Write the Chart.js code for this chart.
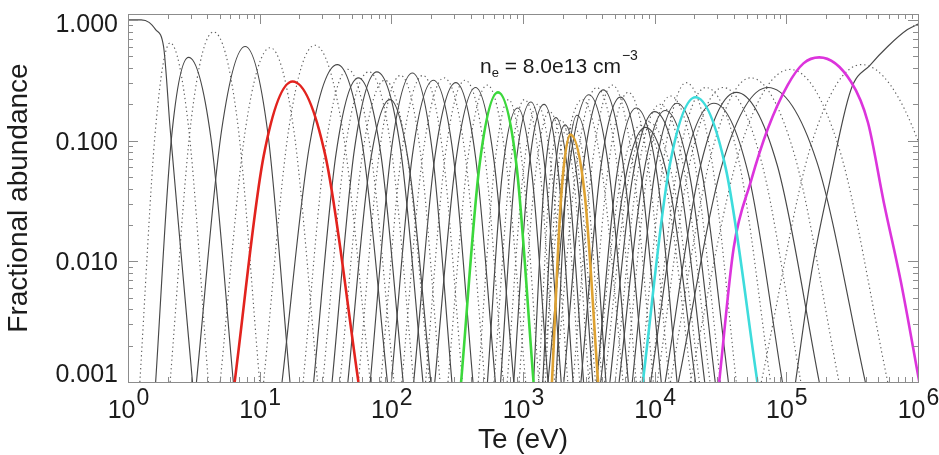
<!DOCTYPE html>
<html>
<head>
<meta charset="utf-8">
<script src="https://cdn.jsdelivr.net/npm/chart.js@4/dist/chart.umd.min.js"></script>
<style>
html,body{margin:0;padding:0;background:#ffffff;}
canvas{display:block;}
</style>
</head>
<body>
<canvas id="chart" width="939" height="455"></canvas>
<script>
// ---- data (log10 units) ----
// log10(Te / eV) for each ionisation-stage curve
const logTe = [
  [0,0.10,0.16,0.21,0.27,0.32,0.40,0.49],
  [0.09,0.21,0.32,0.46,0.61],
  [0.21,0.33,0.46,0.63,0.80],
  [0.32,0.48,0.65,0.83,1.00],
  [0.52,0.71,0.89,1.06,1.23],
  [0.70,0.89,1.08,1.26,1.44],
  [0.81,1.03,1.25,1.50,1.75],
  [1.03,1.22,1.42,1.63,1.84],
  [1.17,1.38,1.59,1.78,1.97],
  [1.33,1.50,1.67,1.84,2.02],
  [1.41,1.58,1.75,1.92,2.09],
  [1.48,1.65,1.83,2.00,2.17],
  [1.55,1.72,1.89,2.07,2.24],
  [1.61,1.78,1.95,2.12,2.29],
  [1.67,1.83,1.99,2.14,2.30],
  [1.75,1.91,2.07,2.22,2.37],
  [1.84,2.00,2.16,2.31,2.46],
  [1.92,2.08,2.24,2.39,2.54],
  [2.00,2.16,2.32,2.47,2.62],
  [2.08,2.24,2.40,2.56,2.71],
  [2.17,2.33,2.49,2.64,2.79],
  [2.26,2.41,2.56,2.71,2.85],
  [2.33,2.49,2.64,2.78,2.93],
  [2.43,2.58,2.73,2.87,3.02],
  [2.53,2.67,2.81,2.95,3.08],
  [2.66,2.78,2.89,3.00,3.12],
  [2.73,2.84,2.96,3.07,3.19],
  [2.78,2.90,3.01,3.13,3.24],
  [2.83,2.94,3.06,3.17,3.29],
  [2.88,3.00,3.11,3.22,3.34],
  [2.93,3.04,3.16,3.27,3.38],
  [2.97,3.09,3.20,3.32,3.43],
  [3.08,3.16,3.25,3.35,3.46],
  [3.12,3.20,3.29,3.39,3.50],
  [3.15,3.23,3.32,3.42,3.53],
  [3.17,3.25,3.34,3.44,3.55],
  [3.22,3.29,3.36,3.47,3.57],
  [3.22,3.30,3.38,3.49,3.60],
  [3.25,3.33,3.41,3.52,3.63],
  [3.15,3.30,3.45,3.60,3.76],
  [3.19,3.35,3.50,3.65,3.80],
  [3.25,3.41,3.56,3.71,3.86],
  [3.31,3.46,3.61,3.76,3.92],
  [3.38,3.53,3.68,3.83,3.99],
  [3.44,3.59,3.74,3.89,4.05],
  [3.50,3.65,3.80,3.95,4.11],
  [3.56,3.71,3.86,4.02,4.17],
  [3.56,3.73,3.90,4.09,4.28],
  [3.59,3.76,3.93,4.12,4.31],
  [3.62,3.79,3.96,4.15,4.34],
  [3.66,3.83,4.00,4.19,4.38],
  [3.70,3.87,4.04,4.23,4.42],
  [3.73,3.91,4.08,4.27,4.46],
  [3.78,3.95,4.12,4.31,4.50],
  [3.83,4.00,4.17,4.36,4.56],
  [3.89,4.07,4.24,4.43,4.62],
  [3.91,4.11,4.31,4.54,4.78],
  [3.97,4.18,4.39,4.64,4.88],
  [3.97,4.21,4.45,4.71,4.97],
  [4.02,4.27,4.52,4.81,5.11],
  [4.08,4.35,4.62,4.93,5.25],
  [4.12,4.43,4.73,5.06,5.40],
  [4.18,4.52,4.86,5.23,5.60],
  [4.27,4.65,5.03,5.40,5.77],
  [4.49,4.60,4.73,4.86,5.01,5.13,5.25,5.49,5.62,5.74,5.87,6.01],
  [4.81,5.19,5.57,6.01,6.46],
  [5.07,5.19,5.32,5.49,5.64,5.77,5.92,6.01]
];
// log10(fractional abundance) at the same points
const logAbundance = [
  [0,0,-0.02,-0.08,-0.22,-0.9,-1.9,-3],
  [-3,-0.89,-0.19,-0.89,-3],
  [-3,-0.98,-0.31,-0.98,-3],
  [-3,-0.83,-0.10,-0.83,-3],
  [-3,-0.92,-0.22,-0.92,-3],
  [-3,-0.92,-0.23,-0.92,-3],
  [-3,-1.13,-0.51,-1.13,-3],
  [-3,-0.91,-0.21,-0.91,-3],
  [-3,-1.03,-0.37,-1.03,-3],
  [-3,-1.06,-0.41,-1.06,-3],
  [-3,-1.11,-0.48,-1.11,-3],
  [-3,-1.07,-0.43,-1.07,-3],
  [-3,-1.07,-0.43,-1.07,-3],
  [-3,-1.12,-0.50,-1.12,-3],
  [-3,-1.25,-0.66,-1.25,-3],
  [-3,-1.09,-0.46,-1.09,-3],
  [-3,-1.08,-0.44,-1.08,-3],
  [-3,-1.09,-0.46,-1.09,-3],
  [-3,-1.12,-0.50,-1.12,-3],
  [-3,-1.11,-0.48,-1.11,-3],
  [-3,-1.14,-0.52,-1.14,-3],
  [-3,-1.12,-0.50,-1.12,-3],
  [-3,-1.17,-0.56,-1.17,-3],
  [-3,-1.16,-0.54,-1.16,-3],
  [-3,-1.20,-0.60,-1.20,-3],
  [-3,-1.25,-0.66,-1.25,-3],
  [-3,-1.30,-0.73,-1.30,-3],
  [-3,-1.25,-0.66,-1.25,-3],
  [-3,-1.26,-0.68,-1.26,-3],
  [-3,-1.28,-0.70,-1.28,-3],
  [-3,-1.28,-0.70,-1.28,-3],
  [-3,-1.32,-0.76,-1.32,-3],
  [-3,-1.36,-0.81,-1.36,-3],
  [-3,-1.37,-0.83,-1.37,-3],
  [-3,-1.40,-0.87,-1.40,-3],
  [-3,-1.42,-0.89,-1.42,-3],
  [-3,-1.46,-0.95,-1.46,-3],
  [-3,-1.40,-0.87,-1.40,-3],
  [-3,-1.34,-0.79,-1.34,-3],
  [-3,-1.25,-0.66,-1.25,-3],
  [-3,-1.22,-0.62,-1.22,-3],
  [-3,-1.17,-0.56,-1.17,-3],
  [-3,-1.19,-0.58,-1.19,-3],
  [-3,-1.16,-0.54,-1.16,-3],
  [-3,-1.23,-0.64,-1.23,-3],
  [-3,-1.20,-0.60,-1.20,-3],
  [-3,-1.30,-0.73,-1.30,-3],
  [-3,-1.40,-0.87,-1.40,-3],
  [-3,-1.42,-0.89,-1.42,-3],
  [-3,-1.39,-0.85,-1.39,-3],
  [-3,-1.32,-0.76,-1.32,-3],
  [-3,-1.28,-0.70,-1.28,-3],
  [-3,-1.31,-0.75,-1.31,-3],
  [-3,-1.22,-0.63,-1.22,-3],
  [-3,-1.27,-0.69,-1.27,-3],
  [-3,-1.14,-0.52,-1.14,-3],
  [-3,-1.23,-0.64,-1.23,-3],
  [-3,-1.17,-0.56,-1.17,-3],
  [-3,-1.27,-0.69,-1.27,-3],
  [-3,-1.17,-0.56,-1.17,-3],
  [-3,-1.20,-0.60,-1.20,-3],
  [-3,-1.11,-0.48,-1.11,-3],
  [-3,-1.17,-0.56,-1.17,-3],
  [-3,-1.06,-0.41,-1.06,-3],
  [-3,-1.89,-1.34,-0.90,-0.54,-0.36,-0.31,-0.51,-0.85,-1.51,-2.17,-3],
  [-3,-1.03,-0.37,-1.03,-3],
  [-3,-2.1,-1.39,-0.58,-0.37,-0.22,-0.08,-0.03]
];
// 's' = solid, 'd' = dotted
const lineStyle = ['s','d','s','d','s','d','s','d','s','d','s','d','s','d','s','d','s','d','s','d',
  's','d','s','d','s','d','s','d','s','d','s','d','s','d','s','d','s','d','s','d',
  's','d','s','d','s','d','s','d','s','d','s','d','s','d','s','d','s','d','s','d',
  's','d','s','d','s','d','s'];
const highlightIndex = [6, 24, 36, 56, 64];
const highlightColor = ['#e2231e', '#3cd83c', '#dea232', '#3edcdc', '#dc34dc'];

const xTickValues = [1, 10, 100, 1000, 10000, 100000, 1000000];
const xTickExponents = ['0', '1', '2', '3', '4', '5', '6'];
const yTickValues = [0.001, 0.01, 0.1, 1];
const yTickLabels = ['0.001', '0.010', '0.100', '1.000'];
const xTitle = 'Te (eV)';
const yTitle = 'Fractional abundance';

// ---- build datasets ----
const datasets = logTe.map((xs, i) => {
  const h = highlightIndex.indexOf(i);
  const dotted = lineStyle[i] === 'd';
  return {
    label: 'stage ' + i,
    data: xs.map((lx, j) => ({ x: Math.pow(10, lx), y: Math.pow(10, logAbundance[i][j]) })),
    borderColor: h >= 0 ? highlightColor[h] : (dotted ? '#5e5e5e' : '#474747'),
    borderWidth: h >= 0 ? 2.6 : 1.15,
    borderDash: (h < 0 && dotted) ? [1.3, 3] : [],
    pointRadius: 0,
    pointHoverRadius: 0,
    fill: false,
    cubicInterpolationMode: 'monotone',
    order: h >= 0 ? 1 : 2
  };
});

const FONT = '"Liberation Sans", Arial, Helvetica, sans-serif';

const idlAxes = {
  id: 'idlAxes',
  afterDatasetsDraw(chart) {
    const { ctx, chartArea: a, scales } = chart;
    const xs = scales.x, ys = scales.y;
    ctx.save();
    ctx.strokeStyle = '#8c8c8c';
    ctx.lineWidth = 1;
    ctx.setLineDash([]);
    ctx.strokeRect(Math.round(a.left) + 0.5, Math.round(a.top) + 0.5,
      Math.round(a.right - a.left), Math.round(a.bottom - a.top));
    ctx.beginPath();
    for (let d = 0; d < xTickValues.length; d++) {
      for (let k = 1; k <= 9; k++) {
        const v = xTickValues[d] * k;
        if (v > xs.max * 1.0001) break;
        const px = Math.round(xs.getPixelForValue(v)) + 0.5;
        const len = k === 1 ? 10 : 5;
        ctx.moveTo(px, a.bottom); ctx.lineTo(px, a.bottom - len);
        ctx.moveTo(px, a.top); ctx.lineTo(px, a.top + len);
      }
    }
    for (let d = 0; d < yTickValues.length; d++) {
      for (let k = 1; k <= 9; k++) {
        const v = yTickValues[d] * k;
        if (v > ys.max) break;
        const py = Math.round(ys.getPixelForValue(v)) + 0.5;
        const len = k === 1 ? 10 : 5;
        ctx.moveTo(a.left, py); ctx.lineTo(a.left + len, py);
        ctx.moveTo(a.right, py); ctx.lineTo(a.right - len, py);
      }
    }
    ctx.stroke();
    ctx.restore();
  },
  afterDraw(chart) {
    const { ctx, chartArea: a, scales } = chart;
    const xs = scales.x, ys = scales.y;
    ctx.save();
    ctx.fillStyle = '#1c1c1c';
    ctx.font = '25px ' + FONT;
    ctx.textAlign = 'right';
    ctx.textBaseline = 'alphabetic';
    yTickLabels.forEach((t, i) => {
      let py = ys.getPixelForValue(yTickValues[i]);
      if (i === 0) py -= 9;
      if (i === yTickLabels.length - 1) py += 3;
      ctx.fillText(t, a.left - 10, py + 9);
    });
    ctx.textAlign = 'left';
    xTickValues.forEach((v, i) => {
      const px = xs.getPixelForValue(v);
      ctx.font = '25px ' + FONT;
      const w1 = ctx.measureText('10').width;
      ctx.font = '23px ' + FONT;
      const w2 = ctx.measureText(xTickExponents[i]).width;
      const x0 = px - (w1 + w2) / 2;
      ctx.font = '25px ' + FONT;
      ctx.fillText('10', x0, a.bottom + 36);
      ctx.font = '23px ' + FONT;
      ctx.fillText(xTickExponents[i], x0 + w1 + 1, a.bottom + 23);
    });
    ctx.font = '28px ' + FONT;
    ctx.textAlign = 'center';
    ctx.fillText(xTitle, (a.left + a.right) / 2, a.bottom + 66);
    ctx.save();
    ctx.translate(27, (a.top + a.bottom) / 2);
    ctx.rotate(-Math.PI / 2);
    ctx.fillText(yTitle, 0, 0);
    ctx.restore();
    ctx.textAlign = 'left';
    let x = 480;
    const base = 73;
    ctx.font = '21px ' + FONT;
    ctx.fillText('n', x, base); x += ctx.measureText('n').width;
    ctx.font = '13px ' + FONT;
    ctx.fillText('e', x, base + 4); x += ctx.measureText('e').width;
    ctx.font = '21px ' + FONT;
    const mid = ' = 8.0e13 cm';
    ctx.fillText(mid, x, base); x += ctx.measureText(mid).width;
    ctx.font = '14px ' + FONT;
    ctx.fillText('\u22123', x + 1, base - 13);
    ctx.restore();
  }
};

new Chart(document.getElementById('chart'), {
  type: 'line',
  data: { datasets },
  options: {
    responsive: false,
    devicePixelRatio: 1,
    animation: false,
    events: [],
    layout: { padding: { left: 128, right: 21, top: 14, bottom: 73 } },
    plugins: { legend: { display: false }, tooltip: { enabled: false }, title: { display: false } },
    elements: { line: { tension: 0 } },
    scales: {
      x: { type: 'logarithmic', min: 1, max: 1000000, display: false },
      y: { type: 'logarithmic', min: 0.001, max: 1.12, display: false }
    }
  },
  plugins: [idlAxes]
});
</script>
</body>
</html>
